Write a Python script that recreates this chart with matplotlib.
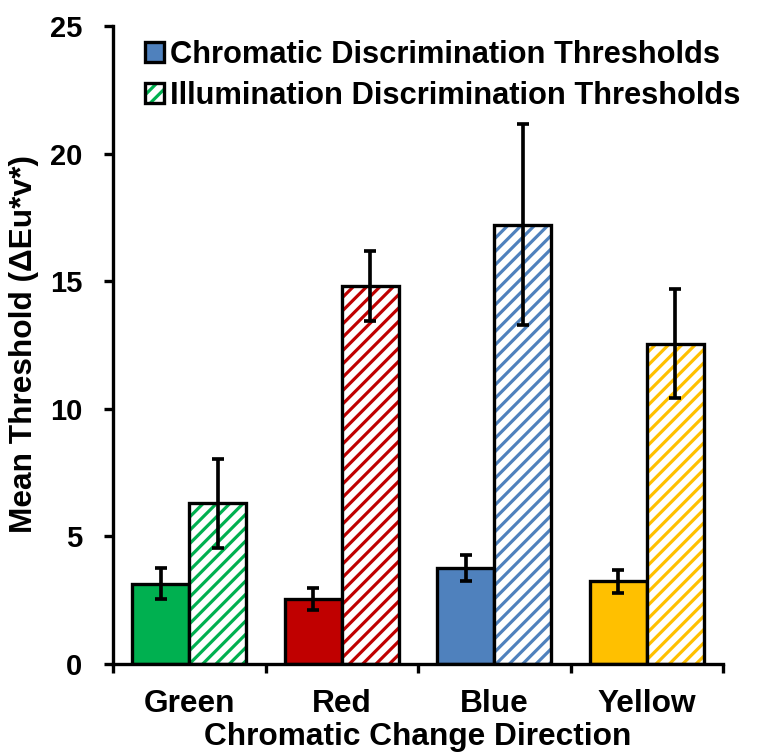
import matplotlib
matplotlib.use('Agg')
import matplotlib.pyplot as plt
from matplotlib.patches import Patch
from matplotlib.legend_handler import HandlerTuple
import numpy as np

categories = ['Green', 'Red', 'Blue', 'Yellow']
chromatic = [3.15, 2.55, 3.78, 3.24]
chromatic_err = [0.60, 0.42, 0.51, 0.46]
illumination = [6.30, 14.80, 17.22, 12.55]
illumination_err = [1.74, 1.37, 3.93, 2.14]
colors = ['#00B050', '#C00000', '#4F81BD', '#FFC000']
series_names = ['Chromatic Discrimination Thresholds', 'Illumination Discrimination Thresholds']

plt.rcParams['font.family'] = ['Liberation Sans', 'DejaVu Sans']
plt.rcParams['font.weight'] = 'bold'
plt.rcParams['hatch.linewidth'] = 1.9

DPI = 120
fig = plt.figure(figsize=(763 / DPI, 753 / DPI), dpi=DPI)
ax = fig.add_axes([113 / 763, 89 / 753, 610 / 763, 638 / 753])

LW = 2.0
ELW = 2.2
w = 0.375
x = np.arange(len(categories))
ax.bar(x - w / 2, chromatic, w, color=colors, edgecolor='black', linewidth=LW, zorder=2)
ax.bar(x + w / 2, illumination, w, color='white', edgecolor=colors, hatch='///', linewidth=0, zorder=2)
ax.bar(x + w / 2, illumination, w, fill=False, edgecolor='black', linewidth=LW, zorder=3)
ax.errorbar(x - w / 2, chromatic, yerr=chromatic_err, fmt='none', ecolor='black',
            elinewidth=ELW, capsize=3.4, capthick=ELW, zorder=4)
ax.errorbar(x + w / 2, illumination, yerr=illumination_err, fmt='none', ecolor='black',
            elinewidth=ELW, capsize=3.4, capthick=ELW, zorder=4)

ax.set_xlim(-0.5, len(categories) - 0.5)
ax.set_ylim(0, 25)
ax.set_yticks(np.arange(0, 26, 5))
ax.set_xticks(np.arange(-0.5, len(categories), 1.0))
ax.set_xticklabels([])
ax.set_xticks(x, minor=True)
ax.set_xticklabels(categories, minor=True)
ax.tick_params(axis='x', which='major', length=5.5, width=LW, direction='out')
ax.tick_params(axis='x', which='minor', length=0, pad=15, labelsize=19)
ax.tick_params(axis='y', length=5.5, width=LW, direction='out', labelsize=17.5, pad=13)
for lab in ax.get_xticklabels(minor=True) + ax.get_yticklabels():
    lab.set_fontweight('bold')

for s in ['top', 'right']:
    ax.spines[s].set_visible(False)
for s in ['left', 'bottom']:
    ax.spines[s].set_linewidth(LW)

fig.text(418 / 763, 1 - 737 / 753, 'Chromatic Change Direction', fontsize=19,
         fontweight='bold', ha='center', va='center')
fig.text(24 / 763, 1 - 344 / 753, 'Mean Threshold (ΔEu*v*)', fontsize=19,
         fontweight='bold', ha='center', va='center', rotation=90)

h1 = Patch(facecolor=colors[2], edgecolor='black', linewidth=LW)
h2a = Patch(facecolor='white', edgecolor=colors[0], hatch='///', linewidth=0)
h2b = Patch(fill=False, edgecolor='black', linewidth=LW)
leg = ax.legend([h1, (h2a, h2b)], series_names,
                handler_map={tuple: HandlerTuple(ndivide=1, pad=0)},
                loc='upper left', bbox_to_anchor=(145 / 763, 1 - 40 / 753),
                bbox_transform=fig.transFigure, frameon=False, fontsize=18.5,
                handlelength=0.6, handleheight=0.6, handletextpad=0.2,
                labelspacing=0.35, borderpad=0, borderaxespad=0)
for t in leg.get_texts():
    t.set_fontweight('bold')

fig.savefig('out.png', dpi=DPI)
